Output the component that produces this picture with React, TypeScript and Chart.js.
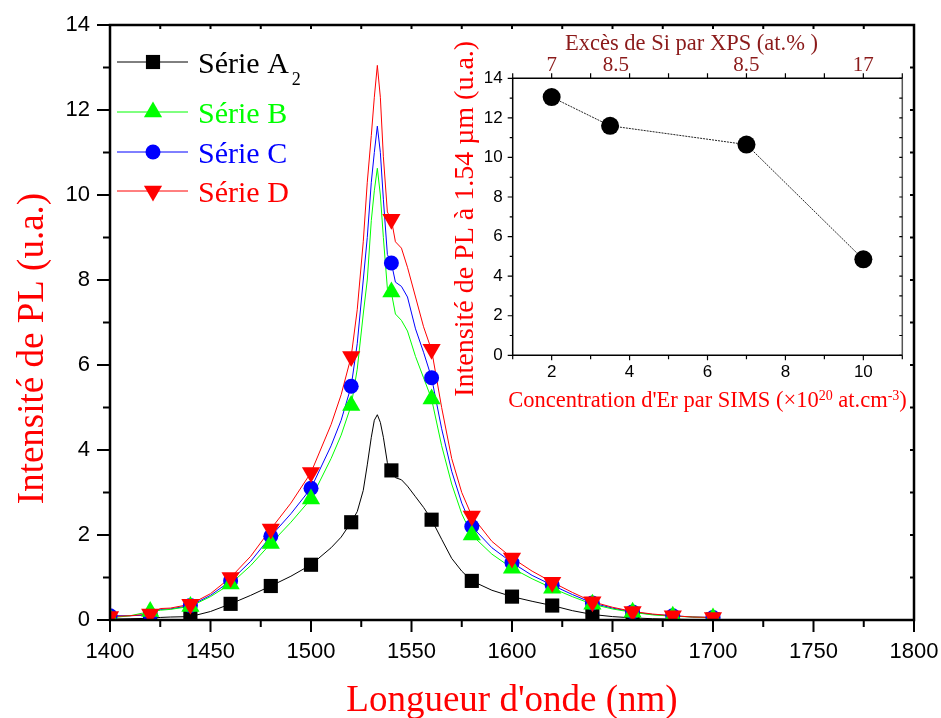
import { useEffect, useRef } from 'react';
import { Chart, registerables } from 'chart.js';

Chart.register(...registerables);

const SERIF = '"Liberation Serif", "Times New Roman", serif';
const SANS = '"Liberation Sans", Arial, sans-serif';
const RED = '#ff0000';
const DARK_RED = '#8b1a1a';

// ---------- main chart data ----------
const wavelengths = [1400, 1410, 1420, 1425, 1430, 1440, 1450, 1460, 1470, 1480, 1490, 1500, 1510, 1515, 1520, 1523, 1526, 1528, 1530, 1531.5, 1533, 1534.5, 1536, 1538, 1540, 1542, 1545, 1548, 1552, 1556, 1560, 1565, 1570, 1575, 1580, 1590, 1600, 1610, 1620, 1630, 1640, 1650, 1660, 1670, 1680, 1690, 1700];
const spectrumA = [0.02, 0.03, 0.04, 0.06, 0.07, 0.08, 0.2, 0.38, 0.58, 0.8, 1.03, 1.3, 1.7, 1.95, 2.3, 2.55, 3.05, 3.65, 4.3, 4.7, 4.83, 4.65, 4.3, 3.7, 3.5, 3.35, 3.3, 3.15, 2.9, 2.65, 2.36, 1.9, 1.45, 1.15, 0.92, 0.7, 0.55, 0.44, 0.34, 0.22, 0.13, 0.08, 0.05, 0.03, 0.02, 0.01, 0.01];
const spectrumB = [0.05, 0.1, 0.2, 0.23, 0.25, 0.32, 0.55, 0.85, 1.28, 1.8, 2.3, 2.85, 3.8, 4.35, 5.05, 5.9, 7.2, 8.0, 9.4, 10.1, 10.63, 10.0, 9.0, 7.8, 7.7, 7.2, 7.05, 6.8, 6.2, 5.7, 5.2, 4.1, 3.2, 2.5, 2.0, 1.55, 1.22, 0.97, 0.75, 0.55, 0.37, 0.26, 0.18, 0.12, 0.09, 0.07, 0.05];
const spectrumC = [0.1, 0.1, 0.12, 0.25, 0.26, 0.34, 0.58, 0.92, 1.38, 1.97, 2.5, 3.1, 4.1, 4.7, 5.5, 6.5, 8.0, 9.0, 10.3, 11.0, 11.62, 11.0, 9.9, 8.6, 8.4, 7.95, 7.85, 7.6, 6.85, 6.3, 5.7, 4.5, 3.5, 2.75, 2.2, 1.7, 1.35, 1.05, 0.82, 0.6, 0.4, 0.28, 0.19, 0.13, 0.1, 0.07, 0.06];
const spectrumD = [0.08, 0.1, 0.14, 0.27, 0.28, 0.37, 0.62, 1.0, 1.5, 2.14, 2.75, 3.47, 4.6, 5.3, 6.2, 7.3, 8.9, 10.3, 11.4, 12.3, 13.05, 12.3, 10.9, 9.6, 9.42, 8.9, 8.75, 8.3, 7.6, 6.9, 6.35, 5.0, 3.8, 3.0, 2.45, 1.85, 1.46, 1.15, 0.89, 0.65, 0.43, 0.3, 0.2, 0.14, 0.1, 0.07, 0.06];

const markerWavelengths = [1400, 1420, 1440, 1460, 1480, 1500, 1520, 1540, 1560, 1580, 1600, 1620, 1640, 1660, 1680, 1700];
const markersA = [0.02, 0.04, 0.08, 0.38, 0.8, 1.3, 2.3, 3.52, 2.36, 0.92, 0.55, 0.34, 0.12, 0.04, 0.02, 0.01];
const markersB = [0.05, 0.2, 0.32, 0.85, 1.8, 2.85, 5.05, 7.72, 5.2, 2.0, 1.22, 0.75, 0.37, 0.18, 0.09, 0.05];
const markersC = [0.1, 0.12, 0.34, 0.92, 1.97, 3.1, 5.5, 8.4, 5.7, 2.2, 1.35, 0.82, 0.4, 0.19, 0.1, 0.06];
const markersD = [0.08, 0.14, 0.37, 1.0, 2.14, 3.47, 6.2, 9.43, 6.37, 2.45, 1.46, 0.89, 0.43, 0.2, 0.1, 0.06];

const seriesNames = ['Série A', 'Série B', 'Série C', 'Série D'];
const seriesSubscripts = ['2', '', '', ''];
const seriesColors = ['#000000', '#00ff00', '#0000ff', '#ff0000'];

const xTickValues = [1400, 1450, 1500, 1550, 1600, 1650, 1700, 1750, 1800];
const yTickValues = [0, 2, 4, 6, 8, 10, 12, 14];

const xTitle = "Longueur d'onde (nm)";
const yTitle = 'Intensité de PL (u.a.)';

// ---------- inset data ----------
const erConcentration = [2, 3.5, 7, 10];
const plAt154 = [13.05, 11.6, 10.65, 4.85];
const insetXTickValues = [2, 4, 6, 8, 10];
const insetYTickValues = [0, 2, 4, 6, 8, 10, 12, 14];
const insetTopTickValues = [2, 3.65, 7, 10];
const insetTopTickLabels = ['7', '8.5', '8.5', '17'];
const insetTopTitle = 'Excès de Si par XPS (at.% )';
const insetYTitle = 'Intensité de PL à 1.54 µm (u.a.)';

const toPoints = (xs: number[], ys: number[]) => xs.map((x, i) => ({ x, y: ys[i] }));

type MarkerStyle = 'rect' | 'triangle' | 'circle' | 'triangleDown';
const markerStyles: MarkerStyle[] = ['rect', 'triangle', 'circle', 'triangleDown'];
const markerRadius: Record<MarkerStyle, number> = { rect: 10, triangle: 10.5, circle: 7.5, triangleDown: 10.5 };

function drawMarker(ctx: CanvasRenderingContext2D, style: MarkerStyle, x: number, y: number, color: string) {
  const r = markerRadius[style];
  ctx.fillStyle = color;
  ctx.beginPath();
  if (style === 'rect') {
    const s = r * Math.SQRT1_2;
    ctx.rect(x - s, y - s, 2 * s, 2 * s);
  } else if (style === 'circle') {
    ctx.arc(x, y, r, 0, Math.PI * 2);
  } else if (style === 'triangle') {
    ctx.moveTo(x, y - r);
    ctx.lineTo(x + r * 0.866, y + r * 0.5);
    ctx.lineTo(x - r * 0.866, y + r * 0.5);
  } else {
    ctx.moveTo(x, y + r);
    ctx.lineTo(x + r * 0.866, y - r * 0.5);
    ctx.lineTo(x - r * 0.866, y - r * 0.5);
  }
  ctx.closePath();
  ctx.fill();
}

// Remove Chart.js automatic edge padding so the layout padding fixes the plot area.
const fitHorizontal = (h: number) => (s: any) => {
  s.height = h;
  s.paddingLeft = 0;
  s.paddingRight = 0;
};
const fitVertical = (w: number) => (s: any) => {
  s.width = w;
  s.paddingTop = 0;
  s.paddingBottom = 0;
};

const mainFramePlugin = {
  id: 'mainFrame',
  afterDraw(chart: any) {
    const { ctx, chartArea: a, scales } = chart;
    const xs = scales.x;
    const ys = scales.y;
    ctx.save();
    ctx.strokeStyle = '#000';
    ctx.lineWidth = 2.5;
    ctx.strokeRect(a.left, a.top, a.right - a.left, a.bottom - a.top);
    ctx.lineWidth = 2;
    ctx.beginPath();
    for (let v = xs.min; v <= xs.max + 0.001; v += 25) {
      const p = xs.getPixelForValue(v);
      const major = Math.round(v) % 50 === 0;
      ctx.moveTo(p, a.bottom);
      ctx.lineTo(p, a.bottom + (major ? 12 : 7));
      ctx.moveTo(p, a.top);
      ctx.lineTo(p, a.top + 4);
    }
    for (let v = ys.min; v <= ys.max + 0.001; v += 1) {
      const p = ys.getPixelForValue(v);
      const major = Math.round(v) % 2 === 0;
      ctx.moveTo(a.left, p);
      ctx.lineTo(a.left - (major ? 13 : 7), p);
      ctx.moveTo(a.right, p);
      ctx.lineTo(a.right - 4, p);
    }
    ctx.stroke();
    ctx.restore();
  },
};

const mainTextPlugin = {
  id: 'mainText',
  afterDraw(chart: any) {
    const { ctx, chartArea: a } = chart;
    ctx.save();
    ctx.fillStyle = RED;
    ctx.font = `37px ${SERIF}`;
    ctx.textAlign = 'center';
    ctx.textBaseline = 'alphabetic';
    ctx.fillText(xTitle, (a.left + a.right) / 2, 711);
    ctx.save();
    ctx.translate(43, (a.top + a.bottom) / 2 + 26);
    ctx.rotate(-Math.PI / 2);
    ctx.fillText(yTitle, 0, 0);
    ctx.restore();

    // legend
    const rowsY = [62, 112, 152, 191];
    ctx.textAlign = 'left';
    seriesNames.forEach((name, i) => {
      const y = rowsY[i];
      ctx.strokeStyle = seriesColors[i];
      ctx.lineWidth = 1;
      ctx.beginPath();
      ctx.moveTo(117, y);
      ctx.lineTo(188, y);
      ctx.stroke();
      drawMarker(ctx, markerStyles[i], 153, y, seriesColors[i]);
      ctx.fillStyle = seriesColors[i];
      ctx.font = `30px ${SERIF}`;
      ctx.fillText(name, 198, y + 10.5);
      if (seriesSubscripts[i]) {
        const w = ctx.measureText(name).width;
        ctx.font = `18px ${SERIF}`;
        ctx.fillText(seriesSubscripts[i], 198 + w + 3, y + 23);
      }
    });
    ctx.restore();
  },
};

const insetFramePlugin = {
  id: 'insetFrame',
  afterDraw(chart: any) {
    const { ctx, chartArea: a, scales } = chart;
    const xs = scales.x;
    const ys = scales.y;
    ctx.save();
    ctx.strokeStyle = '#000';
    ctx.lineWidth = 1.5;
    ctx.beginPath();
    ctx.moveTo(a.right, a.top);
    ctx.lineTo(a.left, a.top);
    ctx.lineTo(a.left, a.bottom);
    ctx.lineTo(a.right, a.bottom);
    ctx.stroke();
    ctx.strokeStyle = '#555';
    ctx.beginPath();
    ctx.moveTo(a.right, a.top);
    ctx.lineTo(a.right, a.bottom);
    ctx.stroke();
    ctx.strokeStyle = '#000';
    ctx.lineWidth = 1.2;
    ctx.beginPath();
    for (let v = xs.min; v <= xs.max + 0.001; v += 1) {
      const p = xs.getPixelForValue(v);
      const major = Math.round(v) % 2 === 0;
      ctx.moveTo(p, a.bottom);
      ctx.lineTo(p, a.bottom + (major ? 5 : 4));
      ctx.moveTo(p, a.top);
      ctx.lineTo(p, a.top - 5);
    }
    for (let v = ys.min; v <= ys.max + 0.001; v += 1) {
      const p = ys.getPixelForValue(v);
      const major = Math.round(v) % 2 === 0;
      ctx.moveTo(a.left, p);
      ctx.lineTo(a.left - (major ? 5 : 3), p);
      ctx.moveTo(a.right, p);
      ctx.lineTo(a.right - 3, p);
    }
    ctx.stroke();
    ctx.restore();
  },
};

const insetTextPlugin = {
  id: 'insetText',
  afterDraw(chart: any) {
    const { ctx, chartArea: a } = chart;
    ctx.save();
    ctx.textBaseline = 'alphabetic';
    ctx.fillStyle = RED;
    ctx.font = `28px ${SERIF}`;
    ctx.textAlign = 'center';
    ctx.save();
    ctx.translate(43, (a.top + a.bottom) / 2 + 2);
    ctx.rotate(-Math.PI / 2);
    ctx.fillText(insetYTitle, 0, 0);
    ctx.restore();
    ctx.fillStyle = DARK_RED;
    ctx.font = `22.5px ${SERIF}`;
    ctx.fillText(insetTopTitle, (a.left + a.right) / 2 - 16, 22);
    const runs = [
      { t: "Concentration d'Er par SIMS (\u00d710", s: 22.5, r: 0 },
      { t: '20', s: 14, r: 7 },
      { t: ' at.cm', s: 22.5, r: 0 },
      { t: '-3', s: 14, r: 7 },
      { t: ')', s: 22.5, r: 0 },
    ];
    let total = 0;
    const widths = runs.map((run) => {
      ctx.font = `${run.s}px ${SERIF}`;
      const w = ctx.measureText(run.t).width;
      total += w;
      return w;
    });
    let x = (a.left + a.right) / 2 - total / 2;
    ctx.fillStyle = RED;
    ctx.textAlign = 'left';
    runs.forEach((run, i) => {
      ctx.font = `${run.s}px ${SERIF}`;
      ctx.fillText(run.t, x, 379 - run.r);
      x += widths[i];
    });
    ctx.restore();
  },
};

export default function App() {
  const mainRef = useRef<HTMLCanvasElement>(null);
  const insetRef = useRef<HTMLCanvasElement>(null);

  useEffect(() => {
    if (!mainRef.current || !insetRef.current) return;
    const spectra = [spectrumA, spectrumB, spectrumC, spectrumD];
    const markers = [markersA, markersB, markersC, markersD];
    const markerOrder = [3, 1, 2, 0];
    const lineOrder = [7, 5, 6, 4];

    const datasets: any[] = [];
    spectra.forEach((vals, i) => {
      datasets.push({
        label: seriesNames[i] + ' spectrum',
        data: toPoints(wavelengths, vals),
        showLine: true,
        borderColor: seriesColors[i],
        backgroundColor: seriesColors[i],
        borderWidth: 1,
        pointRadius: 0,
        tension: 0,
        order: lineOrder[i],
        clip: 0,
      });
    });
    markers.forEach((vals, i) => {
      const style = markerStyles[i];
      datasets.push({
        label: seriesNames[i],
        data: toPoints(markerWavelengths, vals),
        showLine: false,
        pointStyle: style === 'triangleDown' ? 'triangle' : style,
        rotation: style === 'triangleDown' ? 180 : 0,
        pointRadius: markerRadius[style],
        pointBackgroundColor: seriesColors[i],
        pointBorderColor: seriesColors[i],
        pointBorderWidth: 0,
        order: markerOrder[i],
        clip: 0,
      });
    });

    const main = new Chart(mainRef.current, {
      type: 'scatter',
      data: { datasets },
      options: {
        animation: false,
        responsive: false,
        maintainAspectRatio: false,
        events: [],
        layout: { padding: { left: 0, right: 27, top: 25, bottom: 0 } },
        plugins: { legend: { display: false }, tooltip: { enabled: false } },
        scales: {
          x: {
            type: 'linear',
            min: 1400,
            max: 1800,
            afterBuildTicks: (s: any) => { s.ticks = xTickValues.map((value) => ({ value })); },
            afterFit: fitHorizontal(98),
            grid: { display: false, drawTicks: false },
            border: { display: false },
            ticks: { padding: 19, color: '#000', autoSkip: false, maxRotation: 0, font: { family: SANS, size: 22 }, callback: (v: any) => String(v) },
          },
          y: {
            type: 'linear',
            min: 0,
            max: 14,
            afterBuildTicks: (s: any) => { s.ticks = yTickValues.map((value) => ({ value })); },
            afterFit: fitVertical(110),
            grid: { display: false, drawTicks: false },
            border: { display: false },
            ticks: { padding: 20, color: '#000', autoSkip: false, font: { family: SANS, size: 22 }, callback: (v: any) => String(v) },
          },
        },
      } as any,
      plugins: [mainFramePlugin, mainTextPlugin],
    });

    const inset = new Chart(insetRef.current, {
      type: 'scatter',
      data: {
        datasets: [
          {
            label: 'PL à 1.54 µm',
            data: toPoints(erConcentration, plAt154),
            showLine: true,
            borderColor: '#222',
            borderWidth: 1,
            borderDash: [2, 1],
            pointRadius: 9,
            pointBackgroundColor: '#000',
            pointBorderColor: '#000',
            pointBorderWidth: 0,
            clip: false,
          } as any,
        ],
      },
      options: {
        animation: false,
        responsive: false,
        maintainAspectRatio: false,
        events: [],
        layout: { padding: { left: 0, right: 38.7, top: 0, bottom: 0 } },
        plugins: { legend: { display: false }, tooltip: { enabled: false } },
        scales: {
          x: {
            type: 'linear',
            position: 'bottom',
            min: 1,
            max: 11,
            afterBuildTicks: (s: any) => { s.ticks = insetXTickValues.map((value) => ({ value })); },
            afterFit: fitHorizontal(64.7),
            grid: { display: false, drawTicks: false },
            border: { display: false },
            ticks: { padding: 7, color: '#000', autoSkip: false, maxRotation: 0, font: { family: SANS, size: 17 }, callback: (v: any) => String(v) },
          },
          x2: {
            type: 'linear',
            axis: 'x',
            position: 'top',
            min: 1,
            max: 11,
            afterBuildTicks: (s: any) => { s.ticks = insetTopTickValues.map((value) => ({ value })); },
            afterFit: fitHorizontal(50.3),
            grid: { display: false, drawTicks: false },
            border: { display: false },
            ticks: {
              padding: 0,
              color: DARK_RED,
              autoSkip: false,
              maxRotation: 0,
              font: { family: SERIF, size: 21 },
              callback: (_v: any, i: number) => insetTopTickLabels[i],
            },
          },
          y: {
            type: 'linear',
            min: 0,
            max: 14,
            afterBuildTicks: (s: any) => { s.ticks = insetYTickValues.map((value) => ({ value })); },
            afterFit: fitVertical(82.7),
            grid: { display: false, drawTicks: false },
            border: { display: false },
            ticks: { padding: 10, color: '#000', autoSkip: false, font: { family: SANS, size: 17 }, callback: (v: any) => String(v) },
          },
        },
      } as any,
      plugins: [insetFramePlugin, insetTextPlugin],
    });

    return () => {
      main.destroy();
      inset.destroy();
    };
  }, []);

  return (
    <div style={{ position: 'fixed', left: 0, top: 0, width: 941, height: 718, background: '#fff' }}>
      <canvas ref={mainRef} width={941} height={718} style={{ position: 'absolute', left: 0, top: 0, width: 941, height: 718 }} />
      <canvas ref={insetRef} width={511} height={392} style={{ position: 'absolute', left: 430, top: 28, width: 511, height: 392 }} />
    </div>
  );
}
